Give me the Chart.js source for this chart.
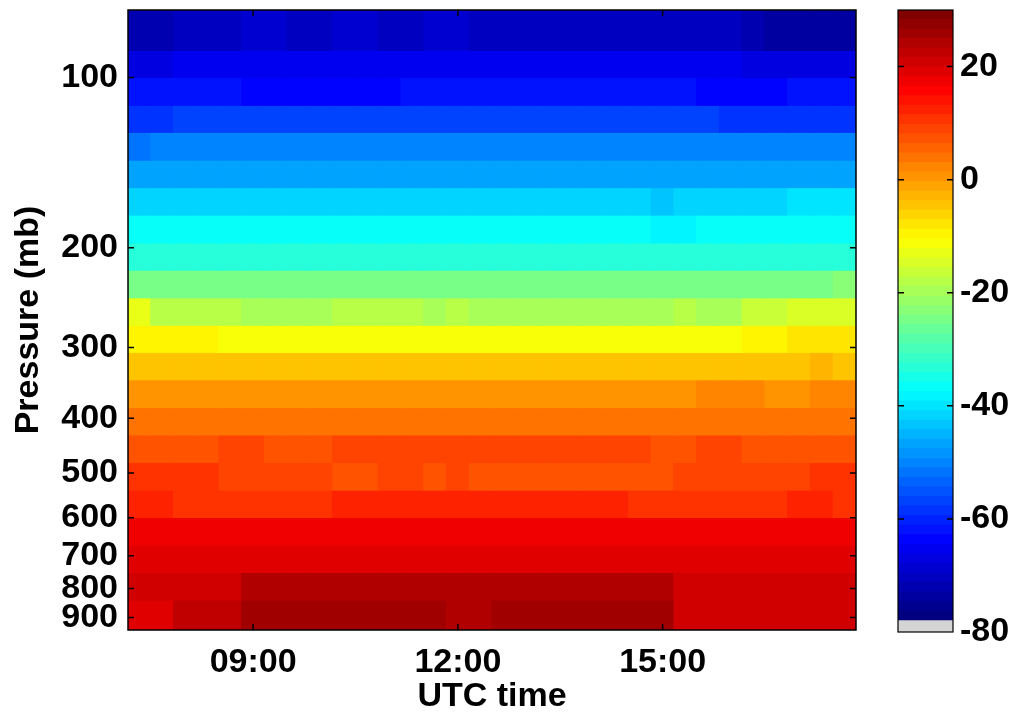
<!DOCTYPE html>
<html lang="en">
<head>
    <meta charset="UTF-8">
    <title>Pressure / UTC time temperature section</title>
    <script src="https://cdn.jsdelivr.net/npm/chart.js"></script>
    <style>
        body {
            margin: 0;
            background: #fff;
            font-family: 'Liberation Sans', Arial, sans-serif;
        }
        #wrap {
            position: relative;
            width: 1016px;
            height: 719px;
        }
        #mainChart { position: absolute; left: 0; top: 0; }
        #barChart { position: absolute; left: 880px; top: 0; }
    </style>
</head>
<body>
<div id="wrap">
    <canvas id="mainChart" width="1016" height="719"></canvas>
    <canvas id="barChart" width="136" height="719"></canvas>
</div>

<script>
    // time columns (centres, 20 min apart)
    const times = ['07:20', '07:40', '08:00', '08:20', '08:40', '09:00', '09:20', '09:40',
        '10:00', '10:20', '10:40', '11:00', '11:20', '11:40', '12:00', '12:20',
        '12:40', '13:00', '13:20', '13:40', '14:00', '14:20', '14:40', '15:00',
        '15:20', '15:40', '16:00', '16:20', '16:40', '17:00', '17:20', '17:40'];
    const timeTicks = ['09:00', '12:00', '15:00'];

    // pressure level edges (mb), top of plot to bottom
    const pressureEdges = [76, 89.6, 100, 112, 125, 140, 156.5, 175, 196, 219, 245, 274,
        306, 342, 383, 428, 479, 536, 599, 670, 749, 838, 947];
    const pressureTicks = [100, 200, 300, 400, 500, 600, 700, 800, 900];

    // temperature (deg C), one row per pressure layer, one value per time column
    const temps = [
        [-72, -72, -71, -70, -70, -69.5, -69.5, -70, -70, -69.5, -69.5, -70, -70, -69.5, -69.5, -70, -70, -70, -70, -70, -71, -71, -71, -70, -70, -70, -71, -72, -73, -74, -74, -73],
        [-67, -67, -66, -66, -65, -65, -65, -65, -65, -65, -65, -65, -65, -65, -65, -65, -65, -65, -65, -65, -65, -65, -65, -65, -65, -66, -66, -67, -67, -67, -67, -67],
        [-62, -62, -62, -62, -62, -63, -63, -63, -63, -63, -63, -63, -62, -62, -62, -62, -62, -62, -62, -62, -62, -62, -62, -62, -62, -63, -63, -63, -64, -62.5, -62.5, -62.5],
        [-58.5, -58, -57, -57, -57, -57, -57, -57, -57, -57, -57, -57, -57, -57, -57, -57, -57, -57, -57, -57, -57, -57, -57, -57, -57, -57, -59, -59, -59, -59, -59, -58.5],
        [-51.5, -51, -51, -51, -51, -51, -51, -51, -51, -51, -50.5, -51, -51, -51, -51, -51, -51, -51, -50, -50.5, -50, -50, -51, -51, -51, -51, -51, -51, -51, -51, -51, -51],
        [-47, -47, -47, -47, -47, -47, -47, -47, -47, -47, -47, -47, -47, -47, -47, -47, -47, -47, -47, -47, -47, -47, -47, -47, -47, -47, -47, -47, -46.5, -46.5, -46.5, -46.5],
        [-41, -41, -41, -41, -41, -41, -41, -41, -41, -41, -41, -41, -41, -41, -41, -41, -41, -41, -41, -41, -41, -41, -41, -43, -42.5, -41, -41, -41, -41, -40.5, -39.5, -39.5],
        [-36.5, -36.5, -37, -37, -37.5, -37.5, -37.5, -37.5, -37.5, -37.5, -37.5, -37.5, -37.5, -37.5, -37.5, -37.5, -37.5, -37.5, -37.5, -37.5, -37.5, -37.5, -37.5, -39, -38, -37.5, -37.5, -37.5, -37.5, -37, -37, -37],
        [-33, -33, -32.5, -33, -33, -33, -33.5, -33, -33, -33, -33, -33, -33, -33, -33, -32.5, -33, -33, -33, -33, -33, -33, -33, -33, -33, -33, -33, -33, -33, -32.5, -32.5, -32.5],
        [-24.5, -25, -25, -25.5, -25.5, -25, -25, -25, -25.5, -25, -25, -25, -25, -25, -25, -25.5, -25.5, -25, -25, -25.5, -25.5, -25.5, -25, -25, -25, -25, -25, -25, -25, -24.5, -24.5, -24],
        [-13.5, -17.5, -17.5, -17.5, -17.5, -19.5, -19.5, -19.5, -19.5, -18, -18, -18, -18, -19.5, -18, -20, -20, -20, -19.5, -19.5, -20, -20, -20, -19.5, -18, -19.5, -19.5, -17, -17, -14, -14, -14],
        [-9, -10.5, -10.5, -10.5, -11.5, -11.5, -11.5, -11.5, -11.5, -11.5, -11.5, -11.5, -11.5, -11.5, -11.5, -11.5, -11.5, -11.5, -11.5, -11.5, -11.5, -11.5, -11.5, -11.5, -11.5, -11.5, -11.5, -10.5, -10.5, -8.5, -8.5, -8.5],
        [-4, -4, -4, -5, -5, -5, -5, -5, -5, -5, -5, -5, -5, -5, -5, -5, -5, -5, -5, -5, -5, -5, -5, -5, -5, -5, -5, -4, -4, -4, -3, -4],
        [1.2, 1.2, 1.2, 1.2, 1.2, -0.3, -0.3, -0.3, -0.3, -0.3, -0.3, -0.3, -0.3, -0.3, -0.3, -0.3, -0.3, -0.3, -0.3, -0.3, -0.3, -0.3, -0.3, -0.3, -0.3, 1.5, 1.5, 1.5, 0, 0, 1.5, 1.5],
        [4.2, 4.2, 4.2, 4.2, 4.2, 4.2, 4.2, 4.2, 4.2, 4.2, 4.2, 4.2, 4.2, 4.2, 4.2, 4.2, 4.2, 4.2, 4.2, 4.2, 4.2, 4.2, 4.2, 3.5, 4, 4.2, 4.2, 4.2, 3, 3, 3, 4.2],
        [8, 8, 8, 8, 8.5, 9, 8, 8, 8, 9.5, 9.5, 9.5, 9.5, 9.5, 9.5, 9.5, 9.5, 9.5, 9.5, 8.5, 9.5, 9.5, 9.5, 7, 7, 9, 9, 6.5, 6.5, 6.5, 6.5, 8],
        [10, 10, 10, 10, 8.5, 8.5, 8.5, 8.5, 8.5, 7, 7, 8.5, 8.5, 7, 8.5, 7, 7, 7, 7, 7.5, 7.5, 7.5, 7.5, 7, 9, 9, 9, 9, 9, 9, 10, 10],
        [12.5, 12.5, 11, 11, 11, 11, 11, 11, 11, 11.5, 11.5, 11.5, 11.5, 11.5, 11.5, 11.5, 11.5, 11.5, 11.5, 11.5, 11.5, 11.5, 11, 11, 11, 11, 11, 11, 11, 12.5, 12.5, 11],
        [17, 16.5, 16.5, 16.5, 16.5, 16.5, 16.5, 16.5, 16.5, 16.5, 16.5, 16.5, 16.5, 16.5, 16.5, 16.5, 16.5, 16.5, 16.5, 17, 17, 17, 16.5, 16.5, 16.5, 16.5, 16.5, 16.5, 16.5, 16.5, 16.5, 16.5],
        [19.8, 19.8, 19.8, 19.8, 19.8, 19.8, 19.8, 19.8, 19.8, 19.8, 19.8, 19.8, 19.8, 19.8, 19.8, 19.8, 19.8, 19.8, 19.8, 19.8, 19.8, 19.8, 19.8, 19.8, 19.8, 19.8, 19.8, 19.8, 19.8, 19, 19, 19],
        [21, 21, 20, 20, 20, 23.5, 23.5, 23.5, 23.5, 23.5, 23.5, 23.5, 23.5, 23.5, 23.5, 23.5, 23.5, 23.5, 23.5, 23.5, 23.5, 23.5, 23.5, 23.5, 21, 21, 21, 21, 20, 21, 21, 21],
        [19, 19, 22.5, 22.5, 22.5, 26, 26, 26, 26, 26, 25.5, 25.5, 25.5, 25.5, 24.5, 24.5, 26.5, 26.5, 26.5, 26.5, 26.5, 26.5, 26.5, 26.5, 21.5, 21.5, 21.5, 21.5, 21.5, 21.5, 21.5, 21.5]
    ];

    // colour scale
    const cMin = -78, cMax = 30, nLevels = 64;
    const barTicks = [-80, -60, -40, -20, 0, 20];

    function jet(t) {
        const c = x => Math.round(255 * Math.max(0, Math.min(1, x)));
        return 'rgb(' + c(1.5 - Math.abs(4 * t - 3)) + ',' + c(1.5 - Math.abs(4 * t - 2)) + ',' + c(1.5 - Math.abs(4 * t - 1)) + ')';
    }
    function levelOf(v) {
        let i = Math.floor((v - cMin) / (cMax - cMin) * nLevels);
        return Math.max(0, Math.min(nLevels - 1, i));
    }
    function colorOf(v) {
        return jet(levelOf(v) / (nLevels - 1));
    }

    const boldFont = { family: "'Liberation Sans', Arial, sans-serif", size: 34, weight: 'bold' };

    // no extra room for half-height of the end tick labels
    function noEdgePadding(s) {
        s.paddingTop = 0;
        s.paddingBottom = 0;
    }

    // frame + inward tick marks
    const framePlugin = {
        id: 'frame',
        afterDatasetsDraw(chart, args, opts) {
            const { ctx, chartArea: a } = chart;
            ctx.save();
            ctx.strokeStyle = '#000';
            ctx.lineWidth = opts.width || 1.5;
            ctx.strokeRect(a.left, a.top, a.right - a.left, a.bottom - a.top);
            ctx.lineWidth = 1.5;
            const len = 6;
            (opts.xTicks || []).forEach(px => {
                ctx.beginPath();
                ctx.moveTo(px, a.bottom); ctx.lineTo(px, a.bottom - len);
                ctx.moveTo(px, a.top); ctx.lineTo(px, a.top + len);
                ctx.stroke();
            });
            (opts.yTicks ? opts.yTicks(chart) : []).forEach(py => {
                ctx.beginPath();
                ctx.moveTo(a.left, py); ctx.lineTo(a.left + len, py);
                ctx.moveTo(a.right, py); ctx.lineTo(a.right - len, py);
                ctx.stroke();
            });
            ctx.restore();
        }
    };

    const datasets = temps.map((row, i) => ({
        data: row.map(() => [pressureEdges[i], pressureEdges[i + 1]]),
        backgroundColor: row.map(v => colorOf(v)),
        borderWidth: 0,
        inflateAmount: 0.6,
        grouped: false,
        barPercentage: 1,
        categoryPercentage: 1
    }));

    const mainChart = new Chart(document.getElementById('mainChart'), {
        type: 'bar',
        data: { labels: times, datasets: datasets },
        options: {
            responsive: false,
            animation: false,
            devicePixelRatio: 1,
            layout: { padding: { left: 0, top: 10, right: 160, bottom: 0 } },
            plugins: {
                legend: { display: false },
                tooltip: { enabled: false },
                frame: {
                    width: 1.5,
                    yTicks: c => pressureTicks.map(p => c.scales.y.getPixelForValue(p))
                }
            },
            scales: {
                x: {
                    type: 'category',
                    grid: { display: false, drawTicks: false },
                    border: { display: false },
                    ticks: {
                        autoSkip: false,
                        maxRotation: 0,
                        padding: 12,
                        color: '#000',
                        font: boldFont,
                        callback: function (v) {
                            const l = this.getLabelForValue(v);
                            return timeTicks.includes(l) ? l : '';
                        }
                    },
                    title: { display: true, text: 'UTC time', color: '#000', font: boldFont, padding: { top: 0, bottom: 2 } },
                    afterFit: s => { s.height = 89; }
                },
                y: {
                    type: 'logarithmic',
                    reverse: true,
                    min: 76,
                    max: 947,
                    afterBuildTicks: s => { s.ticks = pressureTicks.map(v => ({ value: v })); },
                    grid: { display: false, drawTicks: false },
                    border: { display: false },
                    ticks: {
                        padding: 10,
                        color: '#000',
                        font: boldFont,
                        callback: v => String(v)
                    },
                    title: { display: true, text: 'Pressure (mb)', color: '#000', font: boldFont, padding: { top: 8, bottom: 0 } },
                    afterFit: s => { s.width = 128; noEdgePadding(s); }
                }
            }
        },
        plugins: [framePlugin]
    });
    // x tick marks from the category scale
    mainChart.options.plugins.frame.xTicks = timeTicks.map(t => mainChart.scales.x.getPixelForValue(times.indexOf(t)));
    mainChart.update('none');

    // colour bar: 64 jet levels plus the grey under-range block
    const barSets = [{
        data: [[-80, cMin]],
        backgroundColor: '#d4d4d4',
        borderWidth: 0, grouped: false, barPercentage: 1, categoryPercentage: 1
    }];
    for (let i = 0; i < nLevels; i++) {
        const lo = cMin + (cMax - cMin) * i / nLevels;
        const hi = cMin + (cMax - cMin) * (i + 1) / nLevels;
        barSets.push({
            data: [[lo, hi]],
            backgroundColor: jet(i / (nLevels - 1)),
            borderWidth: 0, inflateAmount: 0.6, grouped: false, barPercentage: 1, categoryPercentage: 1
        });
    }

    new Chart(document.getElementById('barChart'), {
        type: 'bar',
        data: { labels: ['T'], datasets: barSets },
        options: {
            responsive: false,
            animation: false,
            devicePixelRatio: 1,
            layout: { padding: { left: 18, top: 10, right: 0, bottom: 87 } },
            plugins: {
                legend: { display: false },
                tooltip: { enabled: false },
                frame: {
                    width: 1.2,
                    yTicks: c => barTicks.slice(1).map(v => c.scales.y.getPixelForValue(v))
                }
            },
            scales: {
                x: { display: false },
                y: {
                    position: 'right',
                    min: -80,
                    max: 30,
                    afterBuildTicks: s => { s.ticks = barTicks.map(v => ({ value: v })); },
                    grid: { display: false, drawTicks: false },
                    border: { display: false },
                    ticks: { padding: 7, color: '#000', font: boldFont },
                    afterFit: s => { s.width = 63; noEdgePadding(s); }
                }
            }
        },
        plugins: [framePlugin]
    });
</script>
</body>
</html>
